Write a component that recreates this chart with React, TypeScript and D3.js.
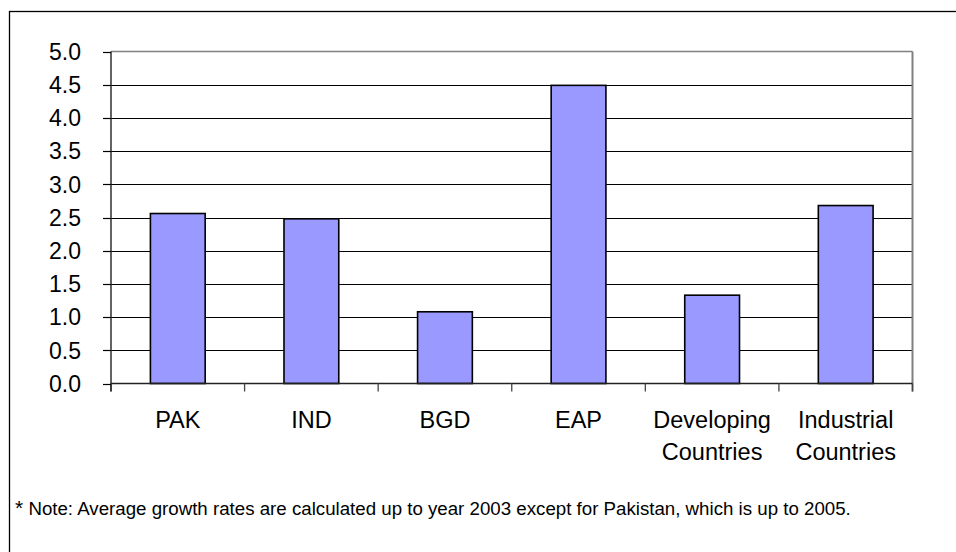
import React from "react";
import * as d3 from "d3";

const categories: string[][] = [
  ["PAK"],
  ["IND"],
  ["BGD"],
  ["EAP"],
  ["Developing", "Countries"],
  ["Industrial", "Countries"],
];
const growthRates: number[] = [2.56, 2.48, 1.08, 4.49, 1.33, 2.68];
const yTicks: number[] = [0, 0.5, 1, 1.5, 2, 2.5, 3, 3.5, 4, 4.5, 5];
const noteText =
  "Note: Average growth rates are calculated up to year 2003 except for Pakistan, which is up to 2005.";

const W = 956;
const H = 552;
const plot = { left: 111, right: 912.5, top: 51.5, bottom: 383.5 };
const FONT = "'Liberation Sans', Arial, Helvetica, sans-serif";

export default function App() {
  const keys = categories.map((c) => c.join(" "));
  const x = d3
    .scaleBand<string>()
    .domain(keys)
    .range([plot.left, plot.right])
    .paddingInner(0.59)
    .paddingOuter(0.295);
  const step = x.step();
  const y = d3.scaleLinear().domain([0, 5]).range([plot.bottom, plot.top]);

  return (
    <svg
      width={W}
      height={H}
      style={{ position: "absolute", left: 0, top: 0, background: "#fff" }}
      fontFamily={FONT}
    >
      <rect x={0} y={0} width={W} height={H} fill="#fff" />
      {/* outer frame */}
      <rect x={9.5} y={11.5} width={W + 20} height={H + 20} fill="none" stroke="#000" strokeWidth={1.3} />

      {/* horizontal gridlines */}
      {yTicks.slice(1, -1).map((t) => (
        <line
          key={"g" + t}
          x1={plot.left}
          x2={plot.right}
          y1={Math.round(y(t)) + 0.5}
          y2={Math.round(y(t)) + 0.5}
          stroke="#000"
          strokeWidth={1}
        />
      ))}
      {/* plot area border */}
      <line x1={plot.left} x2={plot.right} y1={plot.top} y2={plot.top} stroke="#808080" strokeWidth={1.6} />
      <line x1={plot.right} x2={plot.right} y1={plot.top} y2={plot.bottom + 8} stroke="#808080" strokeWidth={2} />

      {/* bars */}
      {growthRates.map((v, i) => (
        <rect
          key={keys[i]}
          x={x(keys[i])!}
          y={y(v)}
          width={x.bandwidth()}
          height={y(0) - y(v)}
          fill="#9999FF"
          stroke="#000"
          strokeWidth={1.6}
        />
      ))}

      {/* x axis */}
      <line x1={plot.left} x2={plot.right} y1={plot.bottom} y2={plot.bottom} stroke="#222" strokeWidth={1.4} />
      {d3.range(keys.length + 1).map((k) => (
        <line
          key={"xt" + k}
          x1={plot.left + k * step}
          x2={plot.left + k * step}
          y1={plot.bottom}
          y2={plot.bottom + 8}
          stroke="#444"
          strokeWidth={1.3}
        />
      ))}
      {categories.map((lines, i) => (
        <text
          key={"xl" + i}
          x={x(keys[i])! + x.bandwidth() / 2}
          y={428}
          textAnchor="middle"
          fontSize={23.5}
          fill="#000"
        >
          {lines.map((l, j) => (
            <tspan key={j} x={x(keys[i])! + x.bandwidth() / 2} dy={j === 0 ? 0 : 32}>
              {l}
            </tspan>
          ))}
        </text>
      ))}

      {/* y axis */}
      <line x1={plot.left} x2={plot.left} y1={plot.top} y2={plot.bottom + 8} stroke="#222" strokeWidth={1.4} />
      {yTicks.map((t) => (
        <g key={"yt" + t}>
          <line
            x1={plot.left - 8}
            x2={plot.left}
            y1={Math.round(y(t)) + 0.5}
            y2={Math.round(y(t)) + 0.5}
            stroke="#000"
            strokeWidth={1.2}
          />
          <text x={81} y={y(t)} dy="0.36em" textAnchor="end" fontSize={23} fill="#000">
            {d3.format(".1f")(t)}
          </text>
        </g>
      ))}

      {/* footnote */}
      <text x={15} y={515} fontSize={18.7} fill="#000">
        <tspan fontSize={21}>*</tspan>
        <tspan> {noteText}</tspan>
      </text>
    </svg>
  );
}
